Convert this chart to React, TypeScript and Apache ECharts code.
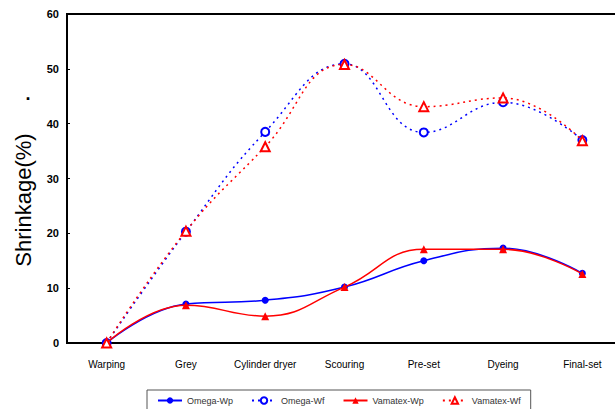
import React, { useEffect, useRef } from "react";
import * as echarts from "echarts";

const categories = ["Warping", "Grey", "Cylinder dryer", "Scouring", "Pre-set", "Dyeing", "Final-set"];
const omegaWp = [0, 7.1, 7.8, 10.2, 15.0, 17.3, 12.7];
const omegaWf = [0, 20.3, 38.5, 50.9, 38.4, 43.9, 37.0];
const vamatexWp = [0, 6.9, 4.9, 10.2, 17.1, 17.1, 12.6];
const vamatexWf = [0, 20.4, 35.8, 50.8, 43.1, 44.7, 36.9];

const FONT = "Liberation Sans, Arial, sans-serif";

export default function App() {
  const ref = useRef<HTMLDivElement>(null);
  useEffect(() => {
    if (!ref.current) return;
    const chart = echarts.init(ref.current, undefined, { renderer: "svg" });
    const BLUE = "#0000FF";
    const RED = "#FF0000";
    chart.setOption({
      animation: false,
      backgroundColor: "#fff",
      textStyle: { fontFamily: FONT },
      grid: {
        left: 67,
        top: 14,
        width: 555,
        height: 329,
        show: true,
        borderColor: "#000",
        borderWidth: 2,
      },
      legend: {
        left: 147,
        top: 390,
        padding: [6, 10],
        itemGap: 18,
        itemWidth: 24,
        itemHeight: 8,
        borderColor: "#555",
        borderWidth: 1,
        textStyle: { fontSize: 9, color: "#333", fontFamily: FONT },
        data: ["Omega-Wp", "Omega-Wf", "Vamatex-Wp", "Vamatex-Wf"],
      },
      xAxis: {
        type: "category",
        data: categories,
        boundaryGap: true,
        axisLine: { lineStyle: { color: "#000", width: 2 } },
        axisTick: { inside: true, length: 4, lineStyle: { color: "#000" } },
        axisLabel: { margin: 16, fontSize: 10, color: "#000", interval: 0, fontFamily: FONT },
        splitLine: { show: false },
      },
      yAxis: {
        type: "value",
        min: 0,
        max: 60,
        interval: 10,
        axisLine: { show: true, lineStyle: { color: "#000", width: 2 } },
        axisTick: { show: true, inside: true, length: 3, lineStyle: { color: "#000" } },
        axisLabel: { margin: 8, fontSize: 11, fontWeight: "bold", color: "#000", fontFamily: FONT },
        splitLine: { show: false },
      },
      graphic: [
        {
          type: "text",
          x: 23,
          y: 200,
          rotation: Math.PI / 2,
          style: {
            text: "Shrinkage(%)",
            fontSize: 22,
            fontFamily: FONT,
            fill: "#000",
            align: "center",
            verticalAlign: "middle",
          },
        },
        {
          type: "text",
          x: 28,
          y: 103,
          style: {
            text: ".",
            fontSize: 18,
            fontWeight: "bold",
            fill: "#000",
            fontFamily: FONT,
            align: "center",
            verticalAlign: "bottom",
          },
        },
      ],
      series: [
        {
          name: "Omega-Wp",
          type: "line",
          data: omegaWp,
          smooth: 0.45,
          symbol: "circle",
          symbolSize: 7,
          itemStyle: { color: BLUE },
          lineStyle: { color: BLUE, width: 1.5 },
          z: 3,
        },
        {
          name: "Omega-Wf",
          type: "line",
          data: omegaWf,
          smooth: 0.45,
          symbol: "emptyCircle",
          symbolSize: 8,
          itemStyle: { color: BLUE, borderWidth: 1.3 },
          lineStyle: { color: BLUE, width: 1.5, type: [2, 4] },
          z: 3,
        },
        {
          name: "Vamatex-Wp",
          type: "line",
          data: vamatexWp,
          smooth: 0.45,
          symbol: "triangle",
          symbolSize: 8,
          itemStyle: { color: RED },
          lineStyle: { color: RED, width: 1.5 },
          z: 4,
        },
        {
          name: "Vamatex-Wf",
          type: "line",
          data: vamatexWf,
          smooth: 0.45,
          symbol: "emptyTriangle",
          symbolSize: 9,
          itemStyle: { color: RED, borderWidth: 1.3 },
          lineStyle: { color: RED, width: 1.5, type: [2, 4] },
          z: 4,
        },
      ],
    });
    return () => chart.dispose();
  }, []);
  return (
    <div
      style={{ position: "fixed", left: 0, top: 0, width: 615, height: 409, overflow: "hidden", background: "#fff" }}
    >
      <div ref={ref} style={{ width: 640, height: 409 }} />
    </div>
  );
}
